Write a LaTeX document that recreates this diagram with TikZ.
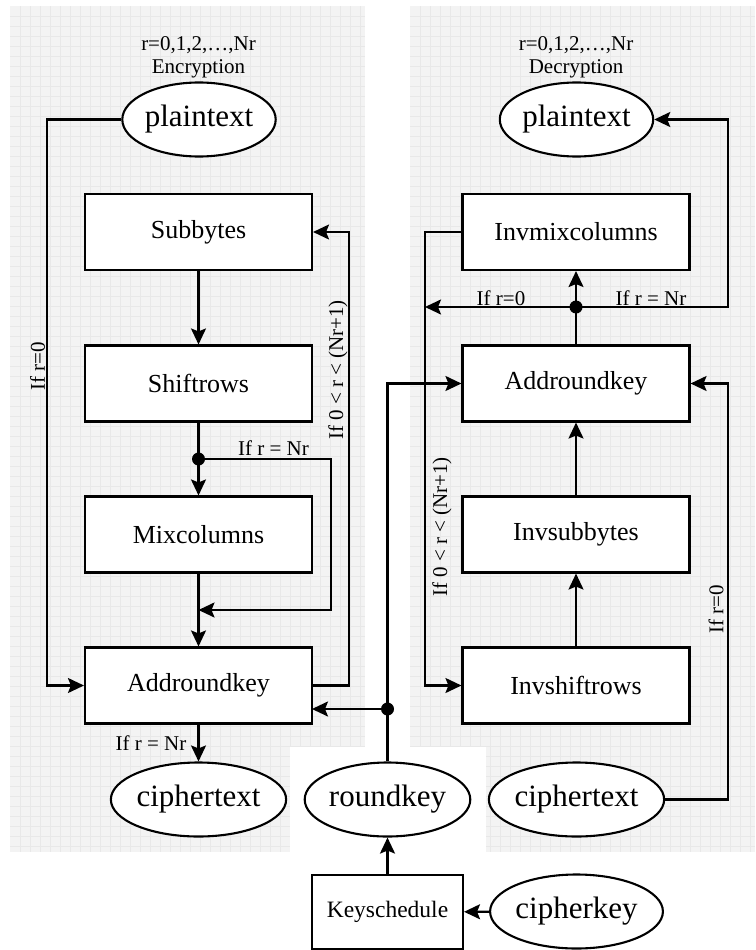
\documentclass[tikz,border=0pt]{standalone}
\usepackage{fontspec}
\setmainfont{Liberation Serif}
\usetikzlibrary{arrows.meta,shapes.geometric}

\definecolor{panelbg}{RGB}{243,243,243}
\definecolor{gridc}{RGB}{232,232,232}

\tikzset{
  box/.style={draw, line width=2.1pt, fill=white, rectangle, inner sep=0pt,
    minimum width=227pt, minimum height=76pt,
    font=\fontsize{26}{30}\selectfont},
  keybox/.style={draw, line width=2.1pt, fill=white, rectangle, inner sep=0pt,
    minimum width=151pt, minimum height=74pt,
    font=\fontsize{23.5}{28}\selectfont},
  oval/.style={draw, line width=2.1pt, fill=white, ellipse, inner sep=0pt,
    minimum width=152pt, minimum height=74pt,
    font=\fontsize{31}{36}\selectfont},
  lbl/.style={inner sep=0pt, font=\fontsize{21}{25}\selectfont},
  conn/.style={line width=2.1pt},
  arr/.style={line width=2.1pt, -{Stealth[length=16pt,width=15pt,inset=3pt]}},
  junction/.style={fill=black, circle, inner sep=0pt, minimum size=13pt},
  gridline/.style={draw=gridc, line width=0.6pt}
}

\begin{document}
\begin{tikzpicture}[x=1pt, y=-1pt]
\useasboundingbox (0,0) rectangle (755,950);

% ---- grid panels ----
\fill[panelbg] (10,6) rectangle (365,852);
\fill[panelbg] (410,6) rectangle (755,852);
\foreach \gx in {20,30,...,360} \draw[gridline] (\gx,6) -- (\gx,852);
\foreach \gx in {420,430,...,750} \draw[gridline] (\gx,6) -- (\gx,852);
\foreach \gy in {16,26,...,846} {
  \draw[gridline] (10,\gy) -- (365,\gy);
  \draw[gridline] (410,\gy) -- (755,\gy);
}
\fill[white] (290,747) rectangle (486,950);

% ---- encryption column ----
\node[lbl, anchor=base] (encR) at (198.5,51) {r=0,1,2,…,Nr};
\node[lbl, anchor=base] (encT) at (198.5,74) {Encryption};
\node[oval] (plainL) at (199,119.5) {plaintext};
\node[box] (sub) at (198.5,232) {Subbytes};
\node[box] (shift) at (198.5,383.5) {Shiftrows};
\node[box] (mix) at (198.5,534.5) {Mixcolumns};
\node[box] (addL) at (198.5,685.5) {Addroundkey};
\node[oval] (cipherL) at (198.5,799.5) {ciphertext};

% ---- decryption column ----
\node[lbl, anchor=base] (decR) at (576,51) {r=0,1,2,…,Nr};
\node[lbl, anchor=base] (decT) at (576,74) {Decryption};
\node[oval] (plainR) at (576.5,119.5) {plaintext};
\node[box] (invmix) at (576,232) {Invmixcolumns};
\node[box] (addR) at (576,383.5) {Addroundkey};
\node[box] (invsub) at (576,534.5) {Invsubbytes};
\node[box] (invshift) at (576,685.5) {Invshiftrows};
\node[oval] (cipherR) at (576.5,799.5) {ciphertext};

% ---- key schedule ----
\node[oval] (rkey) at (387.5,799.5) {roundkey};
\node[keybox] (ksched) at (387.5,912) {Keyschedule};
\node[oval] (ckey) at (576.5,911.5) {cipherkey};

% ---- bend points ----
\coordinate (jL) at (198.5,459);
\coordinate (skipC) at (331,459);
\coordinate (skipR) at (331,610);
\coordinate (skipIn) at (198.5,610);
\coordinate (railLT) at (47,119.5);
\coordinate (railLB) at (47,685.5);
\coordinate (loopB) at (349,685.5);
\coordinate (loopT) at (349,232);
\coordinate (rkJ) at (387.5,709);
\coordinate (rkIn) at (312,709);
\coordinate (rkT) at (387.5,383.5);
\coordinate (jR) at (576,307);
\coordinate (outR) at (728,307);
\coordinate (outRT) at (728,119.5);
\coordinate (backL) at (425,307);
\coordinate (backLT) at (425,232);
\coordinate (backLB) at (425,685.5);
\coordinate (zeroB) at (728,799.5);
\coordinate (zeroT) at (728,383.5);

% ---- encryption connectors ----
\draw[arr] (sub) -- (shift);
\draw[conn] (shift) -- (jL);
\draw[arr] (jL) -- (mix);
\draw[arr] (jL) -- (skipC) -- (skipR) -- (skipIn);
\draw[arr] (mix) -- (addL);
\draw[arr] (plainL.west) -- (railLT) -- (railLB) -- (addL.west);
\draw[arr] (addL.east) -- (loopB) -- (loopT) -- (sub.east);
\draw[arr] (addL) -- (cipherL);
\node[junction] at (jL) {};

\node[lbl, anchor=base] (lblNr1) at (273.5,455) {If r = Nr};
\node[lbl, rotate=90] (lblZ1) at (37.5,366) {If r=0};
\node[lbl, rotate=90] (lblLoop1) at (338,370) {If 0 < r < (Nr+1)};
\node[lbl, anchor=base] (lblNr2) at (151,750) {If r = Nr};

% ---- round key distribution ----
\draw[arr] (ckey) -- (ksched);
\draw[arr] (ksched) -- (rkey);
\draw[conn] (rkey.north) -- (rkJ);
\draw[arr] (rkJ) -- (rkIn);
\draw[arr] (rkJ) -- (rkT) -- (addR.west);
\node[junction] at (rkJ) {};

% ---- decryption connectors ----
\draw[arr] (invshift) -- (invsub);
\draw[arr] (invsub) -- (addR);
\draw[conn] (addR) -- (jR);
\draw[arr] (jR) -- (invmix);
\draw[arr] (jR) -- (outR) -- (outRT) -- (plainR.east);
\draw[arr] (jR) -- (backL);
\draw[arr] (invmix.west) -- (backLT) -- (backLB) -- (invshift.west);
\draw[arr] (cipherR.east) -- (zeroB) -- (zeroT) -- (addR.east);
\node[junction] at (jR) {};

\node[lbl, anchor=base] (lblZ2) at (501,305) {If r=0};
\node[lbl, anchor=base] (lblNr3) at (651,305) {If r = Nr};
\node[lbl, rotate=90] (lblLoop2) at (442,527) {If 0 < r < (Nr+1)};
\node[lbl, rotate=90] (lblZ3) at (716,609) {If r=0};

\end{tikzpicture}
\end{document}
